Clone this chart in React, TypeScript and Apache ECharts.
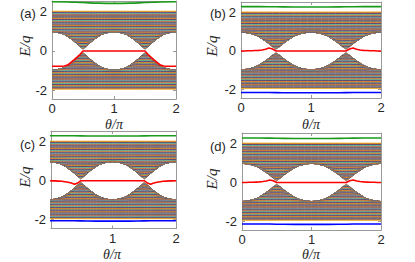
import React, { useEffect, useRef } from "react";
import * as echarts from "echarts";

// θ/π sample points
const THETA = [
  0, 0.05, 0.1, 0.15, 0.2, 0.25, 0.3, 0.35, 0.4, 0.45, 0.5,
  0.55, 0.6, 0.65, 0.7, 0.75, 0.8, 0.85, 0.9, 0.95, 1.0,
  1.05, 1.1, 1.15, 1.2, 1.25, 1.3, 1.35, 1.4, 1.45, 1.5,
  1.55, 1.6, 1.65, 1.7, 1.75, 1.8, 1.85, 1.9, 1.95, 2.0,
];
// inner edge of the upper bulk band (lower band edge is its mirror)
const GAP_EDGE = [
  0.98, 0.97, 0.94, 0.9, 0.84, 0.75, 0.63, 0.51, 0.37, 0.21, 0.05,
  0.21, 0.37, 0.51, 0.63, 0.75, 0.84, 0.9, 0.94, 0.97, 0.98,
  0.97, 0.94, 0.9, 0.84, 0.75, 0.63, 0.51, 0.37, 0.21, 0.05,
  0.21, 0.37, 0.51, 0.63, 0.75, 0.84, 0.9, 0.94, 0.97, 0.98,
];
const BAND_TOP = 2.03;
const BAND_BOTTOM = -1.95;
const BAND_LINES = 80;

// edge-state (red) curves on THETA
const RED_A = [
  -0.78, -0.78, -0.78, -0.78, -0.77, -0.72, -0.6, -0.47, -0.33, -0.18, 0,
  0, 0, 0, 0, 0, 0, 0, 0, 0, 0, 0, 0, 0, 0, 0, 0, 0, 0, 0,
  0, -0.18, -0.33, -0.47, -0.6, -0.72, -0.77, -0.78, -0.78, -0.78, -0.78,
];
const RED_B = [
  0, 0, 0.01, 0.01, 0.02, 0.03, 0.05, 0.09, 0.15, 0.1, 0,
  0, 0, 0, 0, 0, 0, 0, 0, 0, 0, 0, 0, 0, 0, 0, 0, 0, 0, 0,
  0, 0.1, 0.15, 0.09, 0.05, 0.03, 0.02, 0.01, 0.01, 0, 0,
];
const RED_C = [
  0, -0.01, -0.01, -0.02, -0.03, -0.05, -0.08, -0.12, -0.18, -0.12, 0,
  0, 0, 0, 0, 0, 0, 0, 0, 0, 0, 0, 0, 0, 0, 0, 0, 0, 0, 0,
  0, -0.12, -0.18, -0.12, -0.08, -0.05, -0.03, -0.02, -0.01, -0.01, 0,
];
const RED_D = [
  0, 0, 0.01, 0.01, 0.02, 0.03, 0.05, 0.08, 0.13, 0.09, 0,
  0, 0, 0, 0, 0, 0, 0, 0, 0, 0, 0, 0, 0, 0, 0, 0, 0, 0, 0,
  0, 0.09, 0.13, 0.08, 0.05, 0.03, 0.02, 0.01, 0.01, 0, 0,
];

// isolated (green / blue) states on a coarse grid
const THETA_COARSE = [0, 0.25, 0.5, 0.75, 1, 1.25, 1.5, 1.75, 2];
const GREEN_A = [2.51, 2.5, 2.47, 2.44, 2.43, 2.44, 2.47, 2.5, 2.51];
const GREEN_B = [2.31, 2.31, 2.3, 2.29, 2.29, 2.29, 2.3, 2.31, 2.31];
const GREEN_C = [2.31, 2.31, 2.3, 2.29, 2.29, 2.29, 2.3, 2.31, 2.31];
const GREEN_D = [2.29, 2.29, 2.28, 2.27, 2.27, 2.27, 2.28, 2.29, 2.29];
const BLUE_B = [-2.16, -2.16, -2.17, -2.18, -2.18, -2.18, -2.17, -2.16, -2.16];
const BLUE_C = [-2.05, -2.05, -2.06, -2.07, -2.07, -2.07, -2.06, -2.05, -2.05];
const BLUE_D = [-2.14, -2.14, -2.15, -2.16, -2.16, -2.16, -2.15, -2.14, -2.14];

const X_TICKS = [0, 1, 2];
const Y_TICKS = [-2, 0, 2];
const Y_MIN = -2.45;
const Y_MAX = 2.55;

const MATLAB = ["#0072BD", "#D95319", "#EDB120", "#7E2F8E", "#77AC30", "#4DBEEE", "#A2142F"];

const PANELS = [
  { label: "(a)", grid: { left: 52, top: 1, width: 124, height: 98 }, xMin: 0, red: RED_A, green: GREEN_A, blue: null as number[] | null, lab: [20, 13], yn: [25, 46], xn: [114, 124] },
  { label: "(b)", grid: { left: 241, top: 2, width: 140, height: 96 }, xMin: 0, red: RED_B, green: GREEN_B, blue: BLUE_B, lab: [210, 13], yn: [212, 46], xn: [311, 124] },
  { label: "(c)", grid: { left: 51, top: 131, width: 125, height: 97.5 }, xMin: 0.03, red: RED_C, green: GREEN_C, blue: BLUE_C, lab: [20, 144], yn: [25, 177], xn: [112, 254] },
  { label: "(d)", grid: { left: 242, top: 133, width: 139, height: 97 }, xMin: 0, red: RED_D, green: GREEN_D, blue: BLUE_D, lab: [210, 146], yn: [212, 179], xn: [311, 254] },
];

const AXIS_COLOR = "#999999";
const TEXT_COLOR = "#262626";

// bulk state k sits at level L away from the gap, and is pushed out by the band edge
function bulkLevel(level: number, edge: number) {
  const s = 0.08;
  return (level + edge + Math.sqrt((level - edge) * (level - edge) + s * s)) / 2;
}

function buildOption() {
  const grid: any[] = [];
  const xAxis: any[] = [];
  const yAxis: any[] = [];
  const series: any[] = [];
  const graphic: any[] = [];
  const edgeMin = Math.min(...GAP_EDGE);

  PANELS.forEach((p, pi) => {
    grid.push({ ...p.grid, show: false });
    const xBase = {
      type: "value", gridIndex: pi, min: p.xMin, max: 2, interval: 1,
      splitLine: { show: false },
      axisLine: { show: true, onZero: false, lineStyle: { color: AXIS_COLOR, width: 1 } },
      axisTick: { show: true, inside: true, length: 3, customValues: X_TICKS, lineStyle: { color: AXIS_COLOR } },
    };
    xAxis.push({
      ...xBase, position: "bottom",
      axisLabel: { show: true, customValues: X_TICKS, color: TEXT_COLOR, fontSize: 13, fontFamily: "Liberation Sans", margin: 3, showMinLabel: true, showMaxLabel: true },
    });
    xAxis.push({ ...xBase, position: "top", axisLabel: { show: false } });
    const yBase = {
      type: "value", gridIndex: pi, min: Y_MIN, max: Y_MAX,
      splitLine: { show: false },
      axisLine: { show: true, onZero: false, lineStyle: { color: AXIS_COLOR, width: 1 } },
      axisTick: { show: true, inside: true, length: 3, customValues: Y_TICKS, lineStyle: { color: AXIS_COLOR } },
    };
    yAxis.push({
      ...yBase, position: "left",
      axisLabel: { show: true, customValues: Y_TICKS, color: TEXT_COLOR, fontSize: 13, fontFamily: "Liberation Sans", margin: 5 },
    });
    yAxis.push({ ...yBase, position: "right", axisLabel: { show: false } });

    const xi = pi * 2;
    const yi = pi * 2;
    // bulk bands
    for (let k = 0; k < BAND_LINES; k++) {
      const f = k / (BAND_LINES - 1);
      const lu = edgeMin + (BAND_TOP - edgeMin) * f;
      const ll = edgeMin + (-BAND_BOTTOM - edgeMin) * f;
      const up = THETA.map((t, i) => [t, Math.min(BAND_TOP, bulkLevel(lu, GAP_EDGE[i]))]);
      const lo = THETA.map((t, i) => [t, -Math.min(-BAND_BOTTOM, bulkLevel(ll, GAP_EDGE[i]))]);
      const col = MATLAB[k % MATLAB.length];
      [up, lo].forEach((d) => {
        series.push({
          type: "line", xAxisIndex: xi, yAxisIndex: yi, data: d, symbol: "none", silent: true,
          lineStyle: { width: 0.9, color: col }, z: 2,
        });
      });
    }
    series.push({
      type: "line", xAxisIndex: xi, yAxisIndex: yi, symbol: "none", silent: true, z: 5,
      data: THETA.map((t, i) => [t, p.red[i]]), lineStyle: { width: 1.6, color: "#ff0000" },
    });
    series.push({
      type: "line", xAxisIndex: xi, yAxisIndex: yi, symbol: "none", silent: true, z: 5, smooth: true,
      data: THETA_COARSE.map((t, i) => [t, p.green[i]]), lineStyle: { width: 1.6, color: "#1a9a1a" },
    });
    if (p.blue) {
      const b = p.blue;
      series.push({
        type: "line", xAxisIndex: xi, yAxisIndex: yi, symbol: "none", silent: true, z: 5, smooth: true,
        data: THETA_COARSE.map((t, i) => [t, b[i]]), lineStyle: { width: 1.6, color: "#0000ff" },
      });
    }

    graphic.push({
      type: "text", x: p.lab[0], y: p.lab[1],
      style: { text: p.label, fill: TEXT_COLOR, font: "13px 'Liberation Sans'", textAlign: "left", textVerticalAlign: "middle" },
    });
    graphic.push({
      type: "text", x: p.yn[0], y: p.yn[1], rotation: Math.PI / 2,
      style: { text: "E/q", fill: TEXT_COLOR, font: "italic 15px 'Liberation Serif'", textAlign: "center", textVerticalAlign: "middle" },
    });
    graphic.push({
      type: "text", x: p.xn[0], y: p.xn[1],
      style: { text: "θ/π", fill: TEXT_COLOR, font: "italic 14px 'Liberation Serif'", textAlign: "center", textVerticalAlign: "middle" },
    });
  });

  return { animation: false, backgroundColor: "#ffffff", grid, xAxis, yAxis, series, graphic };
}

export default function App() {
  const ref = useRef<HTMLDivElement>(null);
  useEffect(() => {
    if (!ref.current) return;
    const chart = echarts.init(ref.current, null, { renderer: "svg" });
    chart.setOption(buildOption() as any);
    return () => chart.dispose();
  }, []);
  return <div ref={ref} style={{ width: 415, height: 262, position: "absolute", left: 0, top: 0 }} />;
}
